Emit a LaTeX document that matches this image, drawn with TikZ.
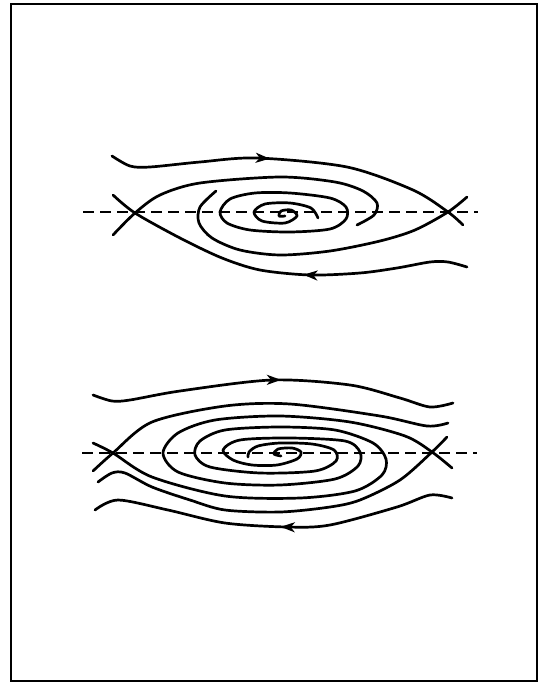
\documentclass[tikz,border=0pt]{standalone}
\usetikzlibrary{arrows.meta,decorations.markings}
\begin{document}
\begin{tikzpicture}[x=1pt,y=-1pt,
    orbit/.style={line width=2.7pt,line cap=round,line join=round},
    axis/.style={line width=1.2pt,dash pattern=on 11pt off 6pt},
    flow/.style={postaction={decorate},decoration={markings,
      mark=at position #1 with {\arrow{Stealth[length=14pt,width=10pt,inset=4pt]}}}}]
  \useasboundingbox (0,0) rectangle (541,682);
  \draw[line width=2pt] (11,4) rectangle (537,681);

  % upper portrait: two saddles, one focus
  \coordinate (L1) at (135,213);
  \coordinate (R1) at (448,212);
  \draw[axis] (83,212) -- (478,212);
  \draw[orbit,flow=0.435] plot[smooth] coordinates {(112,156) (130,166) (150,167)
    (200,162) (257,158) (347,167) (413,190) (R1) (463,225)};
  \draw[orbit,flow=0.44] plot[smooth] coordinates {(467,267) (448,262) (430,262)
    (397,268) (360,273) (310,275) (260,270) (222,258) (180,238) (L1) (113,195)};
  \draw[orbit] plot[smooth] coordinates {(113,235) (L1) (160,195) (200,183)
    (280,177) (335,182) (363,191) (377,203) (374,215) (357,225)};
  \draw[orbit] plot[smooth] coordinates {(467,197) (R1) (415,230) (380,241)
    (330,251) (280,255) (240,250) (212,238) (199,223) (200,207) (216,191)};
  \draw[orbit] plot[smooth cycle] coordinates {(220,212) (230,199) (255,193)
    (290,193) (330,198) (346,207) (346,219) (330,229) (290,232) (250,230) (227,223)};
  \draw[orbit] plot[smooth] coordinates {(318,218) (311,208) (290,203) (265,204)
    (254,212) (262,221) (285,223) (297,216) (291,210) (281,211) (279,216) (285,216)};

  % lower portrait: more turns of the spiral
  \coordinate (L2) at (113,453);
  \coordinate (R2) at (432,452);
  \draw[axis] (82,453) -- (477,453);
  \draw[orbit,flow=0.52] plot[smooth] coordinates {(93,395) (112,401) (130,400)
    (180,391) (272,380) (350,385) (400,398) (430,407) (453,403)};
  \draw[orbit,flow=0.48] plot[smooth] coordinates {(452,498) (430,495) (397,507)
    (330,525) (287,527) (225,523) (168,510) (118,500) (95,510)};
  \draw[orbit] plot[smooth] coordinates {(93,471) (L2) (152,422) (225,406)
    (290,404) (380,416) (427,426) (448,423)};
  \draw[orbit] plot[smooth] coordinates {(447,437) (R2) (400,480) (360,500)
    (330,507) (280,512) (225,510) (190,500) (152,487) (125,473) (112,473) (98,482)};
  \draw[orbit] plot[smooth] coordinates {(452,468) (R2) (405,436) (350,422)
    (280,416) (215,420) (178,433) (163,453) (178,472) (225,483) (280,485)
    (335,479) (358,466) (360,452) (345,441) (290,438) (240,440) (223,450)
    (233,460) (252,465) (277,465) (297,459) (301,452) (292,448) (278,449)
    (274,454) (281,456)};
  \draw[orbit] plot[smooth] coordinates {(93,443) (L2) (152,477) (225,496)
    (300,498) (355,491) (382,475) (386,459) (373,443) (335,430) (280,427)
    (225,430) (200,441) (195,455) (210,467) (260,473) (315,471) (336,461)
    (334,450) (312,444) (280,443) (258,446) (249,452) (248,457)};
\end{tikzpicture}
\end{document}
